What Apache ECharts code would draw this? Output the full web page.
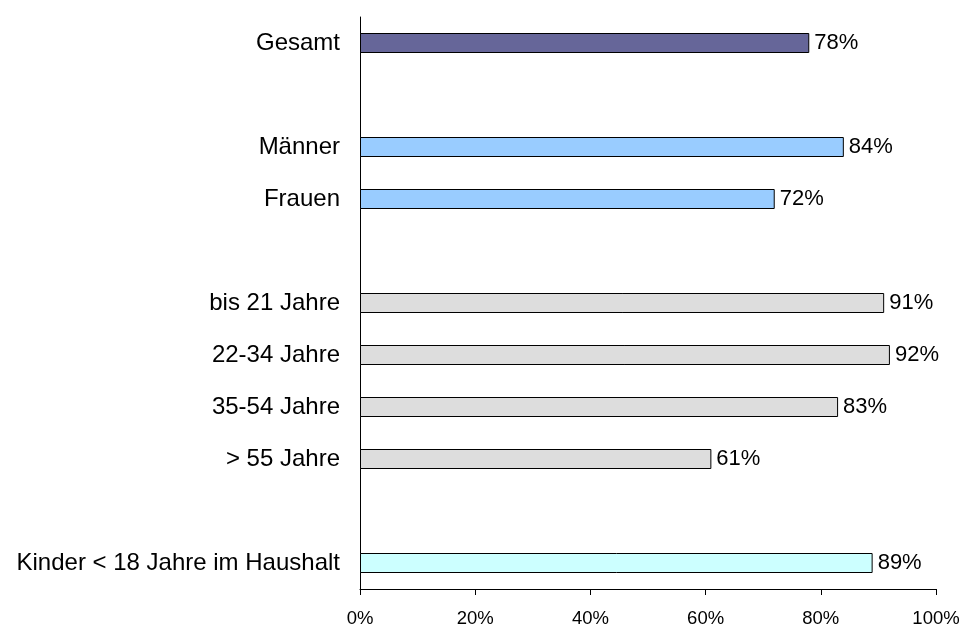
<!DOCTYPE html>
<html>
<head>
<meta charset="utf-8">
<script src="https://cdn.jsdelivr.net/npm/echarts@6/dist/echarts.min.js"></script>
<style>html,body{margin:0;padding:0;background:#fff}#c{width:963px;height:628px}</style>
</head>
<body>
<div id="c"></div>
<script>
var categories = ['Gesamt', ' ', 'Männer', 'Frauen', '  ', 'bis 21 Jahre', '22-34 Jahre', '35-54 Jahre', '> 55 Jahre', '   ', 'Kinder < 18 Jahre im Haushalt'];
var values = [78, null, 84, 72, null, 91, 92, 83, 61, null, 89];
var colors = ['#666699', null, '#99CCFF', '#99CCFF', null, '#DDDDDD', '#DDDDDD', '#DDDDDD', '#DDDDDD', null, '#CCFFFF'];
var xTicks = [0, 20, 40, 60, 80, 100];

var chart = echarts.init(document.getElementById('c'));
var font = 'Liberation Sans, Arial, sans-serif';
chart.setOption({
  animation: false,
  grid: {left: 360, right: 27, top: 17, bottom: 38, containLabel: false},
  xAxis: {
    type: 'value', min: 0, max: 100, interval: 20,
    axisLine: {show: true, lineStyle: {color: '#000', width: 1}},
    axisTick: {show: true, length: 6, lineStyle: {color: '#000'}},
    splitLine: {show: false},
    axisLabel: {color: '#000', fontSize: 18.5, fontFamily: font, margin: 20,
      formatter: function (v) { return xTicks.indexOf(v) >= 0 ? v + '%' : ''; }}
  },
  yAxis: {
    type: 'category', data: categories, inverse: true,
    axisLine: {show: true, onZero: false, lineStyle: {color: '#000', width: 1}},
    axisTick: {show: false},
    axisLabel: {color: '#000', fontSize: 24, fontFamily: font, margin: 20, padding: [6, 0, 0, 0]}
  },
  series: [{
    type: 'bar',
    barWidth: 20,
    data: values.map(function (v, i) {
      return v === null ? null : {value: v, itemStyle: {color: colors[i], borderColor: '#000', borderWidth: 1}};
    }),
    label: {show: true, position: 'right', distance: 5, color: '#000', fontSize: 22, fontFamily: font,
      formatter: function (p) { return p.value + '%'; }}
  }]
});
</script>
</body>
</html>
